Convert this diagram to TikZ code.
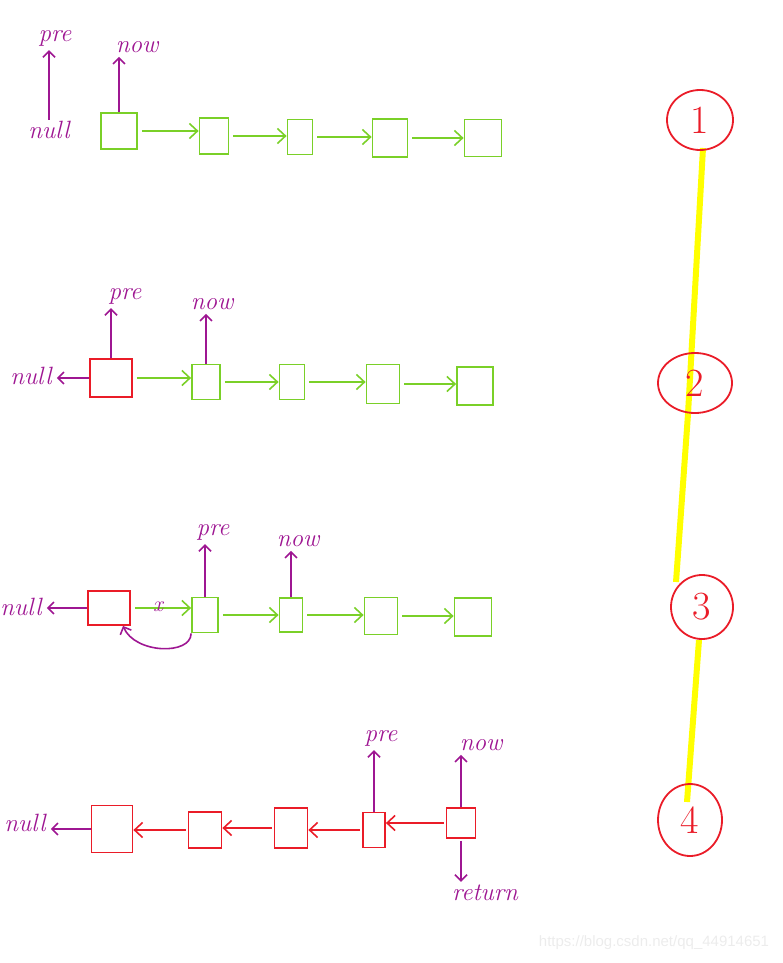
\documentclass[tikz,border=0pt]{standalone}
\usepackage{fontspec}
\usetikzlibrary{arrows.meta,shapes.geometric}
\definecolor{lgreen}{RGB}{122,208,40}
\definecolor{hred}{RGB}{234,28,40}
\definecolor{hpurple}{RGB}{158,22,146}
\definecolor{hyellow}{RGB}{255,255,0}
\definecolor{wm}{RGB}{236,236,236}
\newfontfamily\wmfont{Liberation Sans}
\begin{document}
\begin{tikzpicture}[x=1pt,y=-1pt,
  gbox/.style={draw=lgreen,line width=1.8pt,inner sep=0pt},
  rbox/.style={draw=hred,line width=1.8pt,inner sep=0pt},
  lab/.style={text=hpurple,font=\fontsize{25}{28}\selectfont\itshape,inner sep=1pt},
  garr/.style={draw=lgreen,line width=1.6pt,shorten <=4pt,-{Straight Barb[length=8pt,width=15pt]}},
  rarr/.style={draw=hred,line width=1.6pt,shorten <=2pt,-{Straight Barb[length=8pt,width=15pt]}},
  parr/.style={draw=hpurple,line width=1.6pt,-{Straight Barb[length=6pt,width=12pt]}},
  circ/.style={ellipse,draw=hred,line width=1.8pt,inner sep=0pt,text=hred,font=\fontsize{40}{42}\selectfont},
  yline/.style={draw=hyellow,line width=6pt}
]
\useasboundingbox (0,0) rectangle (782,963);

% ---------- Row 1 ----------
\node[gbox,minimum width=36pt,minimum height=36pt] (a1) at (119,131) {};
\node[gbox,minimum width=29pt,minimum height=36pt] (a2) at (214,136) {};
\node[gbox,minimum width=25pt,minimum height=35pt] (a3) at (300,137) {};
\node[gbox,minimum width=35pt,minimum height=38pt] (a4) at (390,138) {};
\node[gbox,minimum width=37pt,minimum height=37pt] (a5) at (483,138) {};
\draw[garr] (a1.east) -- (a2.west |- a1.east);
\draw[garr] (a2.east) -- (a3.west |- a2.east);
\draw[garr] (a3.east) -- (a4.west |- a3.east);
\draw[garr] (a4.east) -- (a5.west |- a4.east);
\node[lab] (null1) at (49,130) {null};
\node[lab] (pre1) at (55,38) {pre};
\node[lab] (now1) at (137,47) {now};
\draw[parr,shorten >=3pt] (null1.north) -- (null1.north |- pre1.south);
\draw[parr,shorten >=3pt] (a1.north) -- (a1.north |- now1.south);

% ---------- Row 2 ----------
\node[rbox,minimum width=42pt,minimum height=38pt] (b1) at (111,378) {};
\node[gbox,minimum width=28pt,minimum height=35pt] (b2) at (206,382) {};
\node[gbox,minimum width=25pt,minimum height=35pt] (b3) at (292,382) {};
\node[gbox,minimum width=33pt,minimum height=39pt] (b4) at (383,384) {};
\node[gbox,minimum width=36pt,minimum height=38pt] (b5) at (475,386) {};
\draw[garr] (b1.east) -- (b2.west |- b1.east);
\draw[garr] (b2.east) -- (b3.west |- b2.east);
\draw[garr] (b3.east) -- (b4.west |- b3.east);
\draw[garr] (b4.east) -- (b5.west |- b4.east);
\node[lab] (null2) at (31,376) {null};
\node[lab] (pre2) at (125,296) {pre};
\node[lab] (now2) at (212,304) {now};
\draw[parr,shorten >=4pt] (b1.west) -- (null2.east |- b1.west);
\draw[parr,shorten >=3pt] (b1.north) -- (b1.north |- pre2.south);
\draw[parr,shorten >=3pt] (b2.north) -- (b2.north |- now2.south);

% ---------- Row 3 ----------
\node[rbox,minimum width=42pt,minimum height=34pt] (c1) at (109,608) {};
\node[gbox,minimum width=26pt,minimum height=35pt] (c2) at (205,615) {};
\node[gbox,minimum width=23pt,minimum height=34pt] (c3) at (291,615) {};
\node[gbox,minimum width=33pt,minimum height=37pt] (c4) at (381,616) {};
\node[gbox,minimum width=37pt,minimum height=38pt] (c5) at (473,617) {};
\draw[garr] (c1.east) -- (c2.west |- c1.east);
\draw[garr] (c2.east) -- (c3.west |- c2.east);
\draw[garr] (c3.east) -- (c4.west |- c3.east);
\draw[garr] (c4.east) -- (c5.west |- c4.east);
\node[text=hpurple,font=\fontsize{22}{24}\selectfont\itshape,inner sep=0pt] (x3) at (158,607) {x};
\node[lab] (null3) at (21,607) {null};
\node[lab] (pre3) at (213,532) {pre};
\node[lab] (now3) at (298,541) {now};
\draw[parr,shorten >=4pt] (c1.west) -- (null3.east |- c1.west);
\draw[parr,shorten >=3pt] (c2.north) -- (c2.north |- pre3.south);
\draw[parr,shorten >=3pt] (c3.north) -- (c3.north |- now3.south);
\draw[parr] (c2.south west) .. controls +(0,22) and +(12,28) .. ([xshift=14pt]c1.south);

% ---------- Row 4 ----------
\node[rbox,minimum width=41pt,minimum height=47pt] (d1) at (112,829) {};
\node[rbox,minimum width=33pt,minimum height=36pt] (d2) at (205,830) {};
\node[rbox,minimum width=33pt,minimum height=40pt] (d3) at (291,828) {};
\node[rbox,minimum width=22pt,minimum height=35pt] (d4) at (374,830) {};
\node[rbox,minimum width=29pt,minimum height=30pt] (d5) at (461,823) {};
\draw[rarr] (d5.west) -- (d4.east |- d5.west);
\draw[rarr] (d4.west) -- (d3.east |- d4.west);
\draw[rarr] (d3.west) -- (d2.east |- d3.west);
\draw[rarr] (d2.west) -- (d1.east |- d2.west);
\node[lab] (null4) at (25,823) {null};
\node[lab] (pre4) at (381,738) {pre};
\node[lab] (now4) at (481,745) {now};
\node[lab] (ret4) at (485,893) {return};
\draw[parr,shorten >=4pt] (d1.west) -- (null4.east |- d1.west);
\draw[parr,shorten >=3pt] (d4.north) -- (d4.north |- pre4.south);
\draw[parr,shorten >=3pt] (d5.north) -- (d5.north |- now4.south);
\draw[parr,shorten <=2pt,shorten >=2pt] (d5.south) -- (d5.south |- ret4.north);

% ---------- Step markers ----------
\coordinate (y1) at (703,148);
\coordinate (y2) at (688,414);
\coordinate (y3) at (676,582);
\coordinate (y4) at (699,640);
\coordinate (y5) at (687,802);
\draw[yline] (y1) -- (y2) -- (y3);
\draw[yline] (y4) -- (y5);
\node[circ,minimum width=66pt,minimum height=60pt] (n1) at (700,120) {1};
\node[circ,minimum width=74pt,minimum height=60pt] (n2) at (695,383) {2};
\node[circ,minimum width=62pt,minimum height=64pt] (n3) at (702,607) {3};
\node[circ,minimum width=64pt,minimum height=72pt] (n4) at (690,820) {4};

% ---------- Watermark ----------
\node[text=wm,font=\wmfont\fontsize{15}{17}\selectfont,inner sep=0pt] (wmk) at (654,943) {https://blog.csdn.net/qq\_44914651};
\end{tikzpicture}
\end{document}
